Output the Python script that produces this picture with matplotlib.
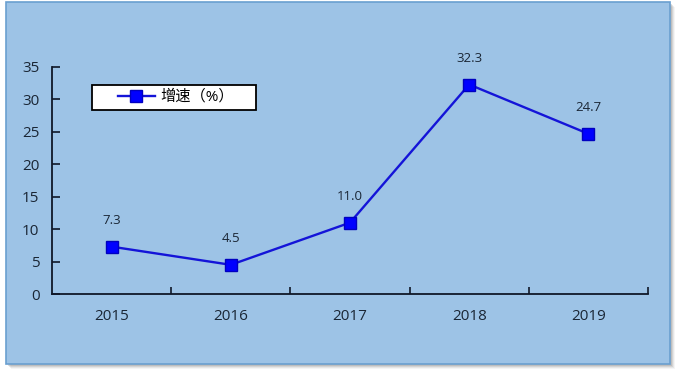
import matplotlib.pyplot as plt
from matplotlib.patches import Rectangle
import numpy as np

years = ["2015", "2016", "2017", "2018", "2019"]
growth = [7.3, 4.5, 11.0, 32.3, 24.7]
y_ticks = [0, 5, 10, 15, 20, 25, 30, 35]

plt.rcParams['font.family'] = ['Open Sans', 'Noto Sans CJK SC', 'DejaVu Sans']

W, H = 677, 377
fig = plt.figure(figsize=(W / 100, H / 100), dpi=100, facecolor="white")

# chart area background with a soft shadow
for i, a in enumerate([0.08, 0.12, 0.18, 0.25]):
    off = 5 - i
    fig.patches.append(Rectangle(((6 + off) / W, 1 - (364 + off) / H), 664 / W, 362 / H,
                                 transform=fig.transFigure, facecolor="#808080", alpha=a,
                                 edgecolor="none", zorder=-3))
fig.patches.append(Rectangle((6 / W, 1 - 364 / H), 664 / W, 362 / H, transform=fig.transFigure,
                             facecolor="#9DC3E6", edgecolor="#6A9FD0", linewidth=1.2, zorder=-2))

ax = fig.add_axes([52 / W, 1 - 294 / H, 596 / W, 227 / H])
ax.patch.set_alpha(0)
x = np.arange(len(years))
ax.plot(x, growth, color="#1414D8", linewidth=1.7, marker="s", markersize=8,
        markerfacecolor="#0000FF", markeredgecolor="#0000C0", label="增速（%）", zorder=3)
for xi, v in zip(x, growth):
    ax.annotate(f"{v:.1f}", (xi, v), xytext=(0, 14), textcoords="offset points",
                ha="center", va="bottom", fontsize=9.5, color="#1A2635")

ax.set_xlim(-0.5, len(years) - 0.5)
ax.set_ylim(0, 35)
ax.set_yticks(y_ticks)
ax.set_xticks(x)
ax.set_xticklabels(years)
ax.set_xticks(np.arange(len(years)) + 0.5, minor=True)
ax.tick_params(axis="x", which="major", length=0, pad=11, labelsize=11, labelcolor="#1A2635")
ax.tick_params(axis="x", which="minor", direction="in", length=5, width=1.2, color="#101828")
ax.tick_params(axis="y", direction="in", length=6, width=1.2, color="#101828", pad=9,
               labelsize=11, labelcolor="#1A2635")
for s in ["top", "right"]:
    ax.spines[s].set_visible(False)
for s in ["left", "bottom"]:
    ax.spines[s].set_color("#101828")
    ax.spines[s].set_linewidth(1.3)

# legend box (Excel style, wider than its content)
ax.add_patch(Rectangle((40 / 596, 1 - 43 / 227), 164 / 596, 25 / 227, transform=ax.transAxes,
                       facecolor="white", edgecolor="black", linewidth=1.3, zorder=4,
                       clip_on=False))
ax.legend(loc="center left", bbox_to_anchor=(66 / 596, 1 - 30.5 / 227), fontsize=11,
          frameon=False, borderpad=0, borderaxespad=0, handlelength=2.4,
          handletextpad=0.35).set_zorder(5)

fig.savefig("out.png", dpi=100)
